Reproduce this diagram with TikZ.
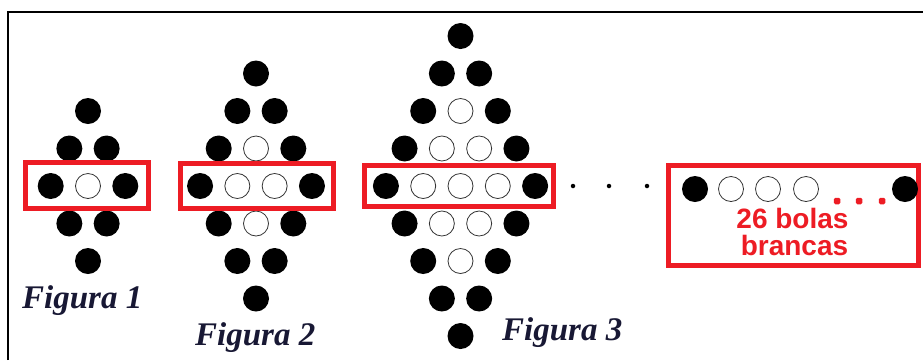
\documentclass[tikz,border=0pt]{standalone}
\usepackage{fontspec}
\setmainfont{Liberation Serif}
\newfontfamily\notefont{Liberation Sans}
\definecolor{boxred}{RGB}{237,28,36}
\definecolor{inkblue}{RGB}{24,24,52}

% draws a diamond of balls: #1 name prefix, #2 centre x, #3 half height in rows
\newcommand\diamondballs[3]{%
  \foreach \i in {-#3,...,#3}{%
    \pgfmathtruncatemacro\k{#3+1-abs(\i)}%
    \foreach \j in {1,...,\k}{%
      \pgfmathsetmacro\bx{#2+(\j-(\k+1)/2)*37.3}%
      \pgfmathsetmacro\by{186+\i*37.5}%
      \pgfmathtruncatemacro\inner{(\j>1)&&(\j<\k)}%
      \ifnum\inner=1
        \node[whiteball] (#1 r\i c\j) at (\bx,\by) {};%
      \else
        \node[blackball] (#1 r\i c\j) at (\bx,\by) {};%
      \fi
    }%
  }%
}

\begin{document}
\begin{tikzpicture}[x=1pt,y=-1pt,
  blackball/.style={circle,fill=black,minimum size=26pt,inner sep=0pt},
  whiteball/.style={circle,draw=black!80,line width=0.8pt,fill=white,minimum size=25pt,inner sep=0pt},
  redframe/.style={draw=boxred,line width=5pt},
  reddot/.style={rectangle,rounded corners=1.5pt,fill=boxred,minimum size=6.5pt,inner sep=0pt},
  gapdot/.style={circle,fill=black,minimum size=4.5pt,inner sep=0pt},
  figlabel/.style={font=\bfseries\itshape\fontsize{33}{33}\selectfont,text=inkblue,anchor=base west,inner sep=0pt},
  notetext/.style={font=\notefont\bfseries\fontsize{28}{28}\selectfont,text=boxred,anchor=base,inner sep=0pt}]
\useasboundingbox (0,0) rectangle (923,360);

% outer frame (top and left sides)
\draw[line width=2pt] (8,360) -- (8,12) -- (923,12);

% the three figures
\diamondballs{f1}{88}{2}
\diamondballs{f2}{256}{3}
\diamondballs{f3}{460.5}{4}

% red frames round the middle rows
\draw[redframe] (25.5,162.5) rectangle (148.5,208.5);
\draw[redframe] (180.5,163.5) rectangle (333.5,208.5);
\draw[redframe] (364.5,165.5) rectangle (553.5,206.5);

% continuation dots
\node[gapdot] (g1) at (573,186) {};
\node[gapdot] (g2) at (609,186) {};
\node[gapdot] (g3) at (647,186) {};

% general row
\draw[redframe] (668.5,165.5) rectangle (918.5,265.5);
\node[blackball] (n1) at (695,189) {};
\node[whiteball] (n2) at (731,189) {};
\node[whiteball] (n3) at (768,189) {};
\node[whiteball] (n4) at (806,189) {};
\node[blackball] (n5) at (905,189) {};
\node[reddot] (d1) at (837,201) {};
\node[reddot] (d2) at (859,201) {};
\node[reddot] (d3) at (882,201) {};
\node[notetext] (t1) at (792.5,228) {26 bolas};
\node[notetext] (t2) at (794.5,255) {brancas};

% captions
\node[figlabel] (c1) at (22,308) {Figura 1};
\node[figlabel] (c2) at (195,345) {Figura 2};
\node[figlabel] (c3) at (502,340) {Figura 3};
\end{tikzpicture}
\end{document}
